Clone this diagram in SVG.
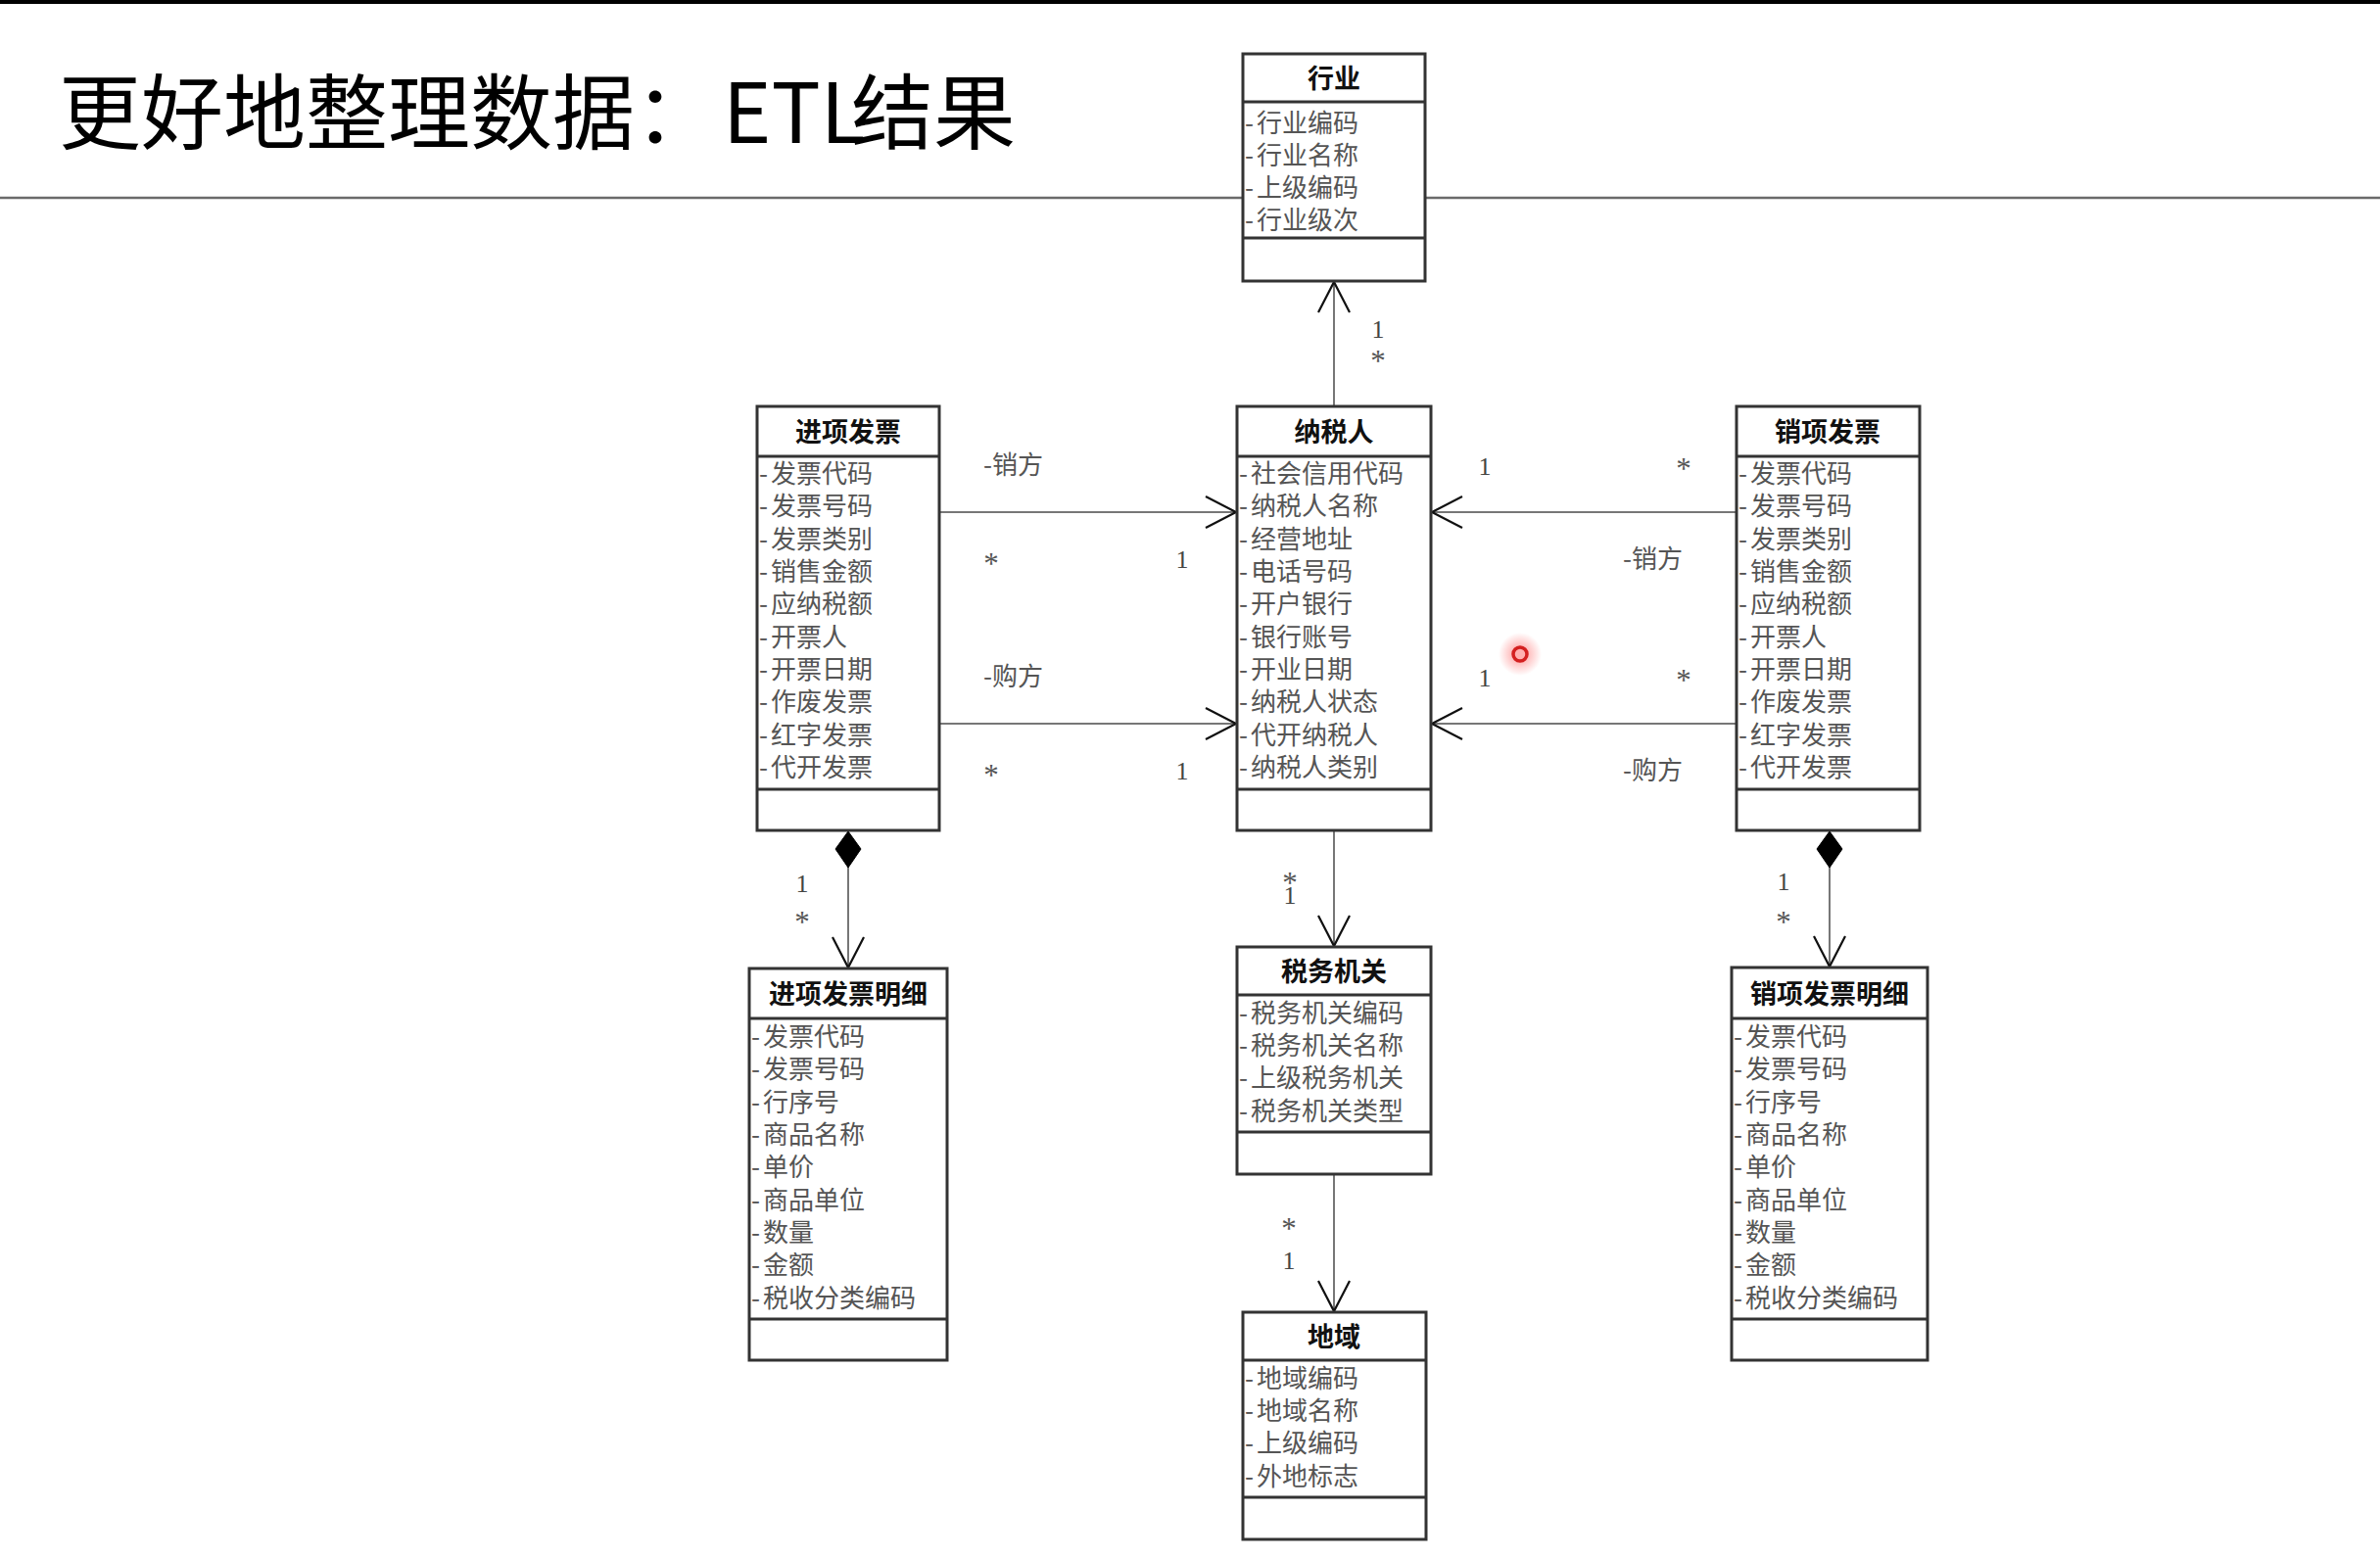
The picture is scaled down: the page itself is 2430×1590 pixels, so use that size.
<svg xmlns="http://www.w3.org/2000/svg" width="2430" height="1590" viewBox="0 0 2430 1590">
<style>
.box{fill:#fff;stroke:#333;stroke-width:3}
.sep{stroke:#333;stroke-width:3}
.hd{font-family:"Noto Sans CJK SC","Liberation Serif",sans-serif;font-weight:bold;font-size:27px;fill:#111;text-anchor:middle}
.at{font-family:"Noto Sans CJK SC","Liberation Sans",sans-serif;font-size:26px;fill:#555}
.lbl{font-family:"Noto Sans CJK SC","Liberation Sans",sans-serif;font-size:26px;fill:#555}
.m{font-family:"Liberation Serif","Noto Sans CJK SC",serif;font-size:26px;fill:#444;text-anchor:middle}
.s{font-family:"Liberation Serif","Noto Sans CJK SC",serif;font-size:31px;fill:#555;text-anchor:middle}
.cn{stroke:#777;stroke-width:2;fill:none}
.arr{marker-end:url(#open)}
</style>
<defs>
<marker id="open" markerUnits="userSpaceOnUse" viewBox="-34 -20 40 40" markerWidth="40" markerHeight="40" refX="0" refY="0" orient="auto">
<path d="M-31,-16 L0,0 L-31,16" fill="none" stroke="#111" stroke-width="2.2"/>
</marker>
<marker id="dia" markerUnits="userSpaceOnUse" viewBox="-2 -20 42 40" markerWidth="42" markerHeight="40" refX="0" refY="0" orient="auto">
<path d="M0,0 L18,-13 L37,0 L18,13 Z" fill="#000" stroke="#000" stroke-width="1"/>
</marker>
<radialGradient id="glow">
<stop offset="0" stop-color="#ff4040" stop-opacity="0.55"/>
<stop offset="1" stop-color="#ff4040" stop-opacity="0"/>
</radialGradient>
</defs>
<rect x="0" y="0" width="2430" height="1590" fill="#fff"/>
<rect x="0" y="0" width="2430" height="4" fill="#000"/>
<g id="title">
<line x1="0" y1="202" x2="2430" y2="202" stroke="#6a6a6a" stroke-width="2.5"/>
<text y="146" font-family="Noto Sans CJK SC, sans-serif" font-size="84" fill="#000"><tspan x="60">更好地整理数据：</tspan><tspan x="738">ETL</tspan><tspan x="869">结果</tspan></text>
</g>
<g id="connectors">
<line class="cn arr" x1="1362" y1="415" x2="1362" y2="288"/>
<line class="cn arr" x1="959" y1="523" x2="1262" y2="523"/>
<line class="cn arr" x1="959" y1="739" x2="1262" y2="739"/>
<line class="cn arr" x1="1773" y1="523" x2="1462" y2="523"/>
<line class="cn arr" x1="1773" y1="739" x2="1462" y2="739"/>
<line class="cn arr" x1="866" y1="849" x2="866" y2="988" marker-start="url(#dia)"/>
<line class="cn arr" x1="1868" y1="849" x2="1868" y2="987" marker-start="url(#dia)"/>
<line class="cn arr" x1="1362" y1="848" x2="1362" y2="966"/>
<line class="cn arr" x1="1362" y1="1199" x2="1362" y2="1339"/>
<text class="m" x="1407" y="345">1</text>
<text class="s" x="1407" y="379">*</text>
<text class="lbl" x="1004" y="484">-销方</text>
<text class="s" x="1012" y="586">*</text>
<text class="m" x="1207" y="580">1</text>
<text class="lbl" x="1004" y="700">-购方</text>
<text class="s" x="1012" y="802">*</text>
<text class="m" x="1207" y="796">1</text>
<text class="m" x="1516" y="485">1</text>
<text class="s" x="1719" y="489">*</text>
<text class="lbl" x="1657" y="580">-销方</text>
<text class="m" x="1516" y="701">1</text>
<text class="s" x="1719" y="705">*</text>
<text class="lbl" x="1657" y="796">-购方</text>
<text class="m" x="819" y="911">1</text>
<text class="s" x="819" y="952">*</text>
<text class="m" x="1821" y="909">1</text>
<text class="s" x="1821" y="952">*</text>
<text class="s" x="1317" y="912">*</text>
<text class="m" x="1317" y="923">1</text>
<text class="s" x="1316" y="1265">*</text>
<text class="m" x="1316" y="1296">1</text>
</g>
<g id="hangye">
<rect class="box" x="1269" y="55" width="186" height="232"/>
<line class="sep" x1="1269" y1="104" x2="1455" y2="104"/>
<line class="sep" x1="1269" y1="243" x2="1455" y2="243"/>
<text class="hd" x="1362" y="90">行业</text>
<text class="at" x="1271" y="135">-<tspan dx="3">行业编码</tspan></text>
<text class="at" x="1271" y="168">-<tspan dx="3">行业名称</tspan></text>
<text class="at" x="1271" y="201">-<tspan dx="3">上级编码</tspan></text>
<text class="at" x="1271" y="234">-<tspan dx="3">行业级次</tspan></text>
</g>
<g id="jinxiang">
<rect class="box" x="773" y="415" width="186" height="433"/>
<line class="sep" x1="773" y1="466" x2="959" y2="466"/>
<line class="sep" x1="773" y1="806" x2="959" y2="806"/>
<text class="hd" x="866" y="451">进项发票</text>
<text class="at" x="775" y="493">-<tspan dx="3">发票代码</tspan></text>
<text class="at" x="775" y="526">-<tspan dx="3">发票号码</tspan></text>
<text class="at" x="775" y="560">-<tspan dx="3">发票类别</tspan></text>
<text class="at" x="775" y="593">-<tspan dx="3">销售金额</tspan></text>
<text class="at" x="775" y="626">-<tspan dx="3">应纳税额</tspan></text>
<text class="at" x="775" y="660">-<tspan dx="3">开票人</tspan></text>
<text class="at" x="775" y="693">-<tspan dx="3">开票日期</tspan></text>
<text class="at" x="775" y="726">-<tspan dx="3">作废发票</tspan></text>
<text class="at" x="775" y="760">-<tspan dx="3">红字发票</tspan></text>
<text class="at" x="775" y="793">-<tspan dx="3">代开发票</tspan></text>
</g>
<g id="nashuiren">
<rect class="box" x="1263" y="415" width="198" height="433"/>
<line class="sep" x1="1263" y1="466" x2="1461" y2="466"/>
<line class="sep" x1="1263" y1="806" x2="1461" y2="806"/>
<text class="hd" x="1362" y="451">纳税人</text>
<text class="at" x="1265" y="493">-<tspan dx="3">社会信用代码</tspan></text>
<text class="at" x="1265" y="526">-<tspan dx="3">纳税人名称</tspan></text>
<text class="at" x="1265" y="560">-<tspan dx="3">经营地址</tspan></text>
<text class="at" x="1265" y="593">-<tspan dx="3">电话号码</tspan></text>
<text class="at" x="1265" y="626">-<tspan dx="3">开户银行</tspan></text>
<text class="at" x="1265" y="660">-<tspan dx="3">银行账号</tspan></text>
<text class="at" x="1265" y="693">-<tspan dx="3">开业日期</tspan></text>
<text class="at" x="1265" y="726">-<tspan dx="3">纳税人状态</tspan></text>
<text class="at" x="1265" y="760">-<tspan dx="3">代开纳税人</tspan></text>
<text class="at" x="1265" y="793">-<tspan dx="3">纳税人类别</tspan></text>
</g>
<g id="xiaoxiang">
<rect class="box" x="1773" y="415" width="187" height="433"/>
<line class="sep" x1="1773" y1="466" x2="1960" y2="466"/>
<line class="sep" x1="1773" y1="806" x2="1960" y2="806"/>
<text class="hd" x="1866" y="451">销项发票</text>
<text class="at" x="1775" y="493">-<tspan dx="3">发票代码</tspan></text>
<text class="at" x="1775" y="526">-<tspan dx="3">发票号码</tspan></text>
<text class="at" x="1775" y="560">-<tspan dx="3">发票类别</tspan></text>
<text class="at" x="1775" y="593">-<tspan dx="3">销售金额</tspan></text>
<text class="at" x="1775" y="626">-<tspan dx="3">应纳税额</tspan></text>
<text class="at" x="1775" y="660">-<tspan dx="3">开票人</tspan></text>
<text class="at" x="1775" y="693">-<tspan dx="3">开票日期</tspan></text>
<text class="at" x="1775" y="726">-<tspan dx="3">作废发票</tspan></text>
<text class="at" x="1775" y="760">-<tspan dx="3">红字发票</tspan></text>
<text class="at" x="1775" y="793">-<tspan dx="3">代开发票</tspan></text>
</g>
<g id="jinxiang-mingxi">
<rect class="box" x="765" y="989" width="202" height="400"/>
<line class="sep" x1="765" y1="1040" x2="967" y2="1040"/>
<line class="sep" x1="765" y1="1347" x2="967" y2="1347"/>
<text class="hd" x="866" y="1025">进项发票明细</text>
<text class="at" x="767" y="1068">-<tspan dx="3">发票代码</tspan></text>
<text class="at" x="767" y="1101">-<tspan dx="3">发票号码</tspan></text>
<text class="at" x="767" y="1135">-<tspan dx="3">行序号</tspan></text>
<text class="at" x="767" y="1168">-<tspan dx="3">商品名称</tspan></text>
<text class="at" x="767" y="1201">-<tspan dx="3">单价</tspan></text>
<text class="at" x="767" y="1235">-<tspan dx="3">商品单位</tspan></text>
<text class="at" x="767" y="1268">-<tspan dx="3">数量</tspan></text>
<text class="at" x="767" y="1301">-<tspan dx="3">金额</tspan></text>
<text class="at" x="767" y="1335">-<tspan dx="3">税收分类编码</tspan></text>
</g>
<g id="xiaoxiang-mingxi">
<rect class="box" x="1768" y="988" width="200" height="401"/>
<line class="sep" x1="1768" y1="1040" x2="1968" y2="1040"/>
<line class="sep" x1="1768" y1="1347" x2="1968" y2="1347"/>
<text class="hd" x="1868" y="1025">销项发票明细</text>
<text class="at" x="1770" y="1068">-<tspan dx="3">发票代码</tspan></text>
<text class="at" x="1770" y="1101">-<tspan dx="3">发票号码</tspan></text>
<text class="at" x="1770" y="1135">-<tspan dx="3">行序号</tspan></text>
<text class="at" x="1770" y="1168">-<tspan dx="3">商品名称</tspan></text>
<text class="at" x="1770" y="1201">-<tspan dx="3">单价</tspan></text>
<text class="at" x="1770" y="1235">-<tspan dx="3">商品单位</tspan></text>
<text class="at" x="1770" y="1268">-<tspan dx="3">数量</tspan></text>
<text class="at" x="1770" y="1301">-<tspan dx="3">金额</tspan></text>
<text class="at" x="1770" y="1335">-<tspan dx="3">税收分类编码</tspan></text>
</g>
<g id="shuiwujiguan">
<rect class="box" x="1263" y="967" width="198" height="232"/>
<line class="sep" x1="1263" y1="1016" x2="1461" y2="1016"/>
<line class="sep" x1="1263" y1="1156" x2="1461" y2="1156"/>
<text class="hd" x="1362" y="1002">税务机关</text>
<text class="at" x="1265" y="1044">-<tspan dx="3">税务机关编码</tspan></text>
<text class="at" x="1265" y="1077">-<tspan dx="3">税务机关名称</tspan></text>
<text class="at" x="1265" y="1110">-<tspan dx="3">上级税务机关</tspan></text>
<text class="at" x="1265" y="1144">-<tspan dx="3">税务机关类型</tspan></text>
</g>
<g id="diyu">
<rect class="box" x="1269" y="1340" width="187" height="232"/>
<line class="sep" x1="1269" y1="1389" x2="1456" y2="1389"/>
<line class="sep" x1="1269" y1="1529" x2="1456" y2="1529"/>
<text class="hd" x="1362" y="1375">地域</text>
<text class="at" x="1271" y="1417">-<tspan dx="3">地域编码</tspan></text>
<text class="at" x="1271" y="1450">-<tspan dx="3">地域名称</tspan></text>
<text class="at" x="1271" y="1483">-<tspan dx="3">上级编码</tspan></text>
<text class="at" x="1271" y="1517">-<tspan dx="3">外地标志</tspan></text>
</g>
<g id="cursor">
<circle cx="1552" cy="668" r="22" fill="url(#glow)"/>
<circle cx="1552" cy="668" r="7" fill="#ffb0b0" stroke="#d42020" stroke-width="3.5"/>
</g>
</svg>
